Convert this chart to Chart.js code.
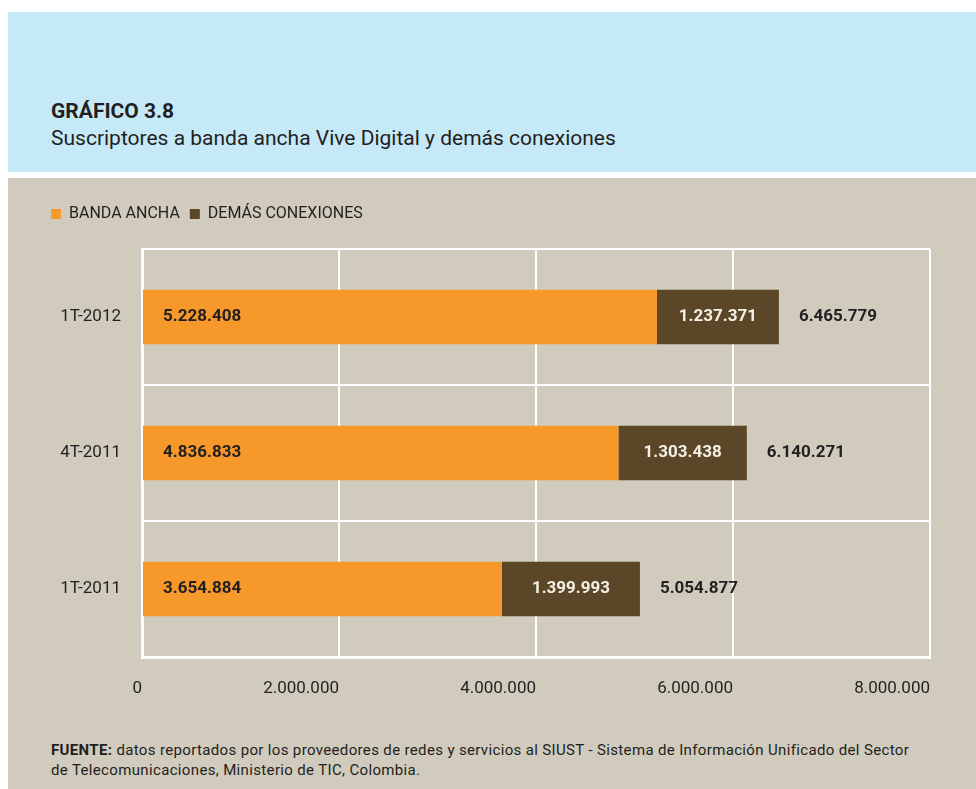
<!DOCTYPE html>
<html>
<head>
<meta charset="utf-8">
<script src="https://cdn.jsdelivr.net/npm/chart.js@4/dist/chart.umd.min.js"></script>
<style>
  body { margin: 0; background: #fff; width: 976px; height: 789px; position: relative; overflow: hidden; font-family: Roboto, sans-serif; }
  #head { position: absolute; left: 8px; top: 12px; width: 968px; height: 160px; background: #c6e9f8; }
  #head .num { position: absolute; left: 43px; top: 87px; font-size: 21px; font-weight: bold; color: #231f20; }
  #head .sub { position: absolute; left: 43px; top: 114px; font-size: 21px; color: #231f20; }
  #panel { position: absolute; left: 8px; top: 178px; width: 968px; height: 611px; background: #d1cbbd; }
  #wrap { position: absolute; left: 0; top: 0; width: 968px; height: 540px; }
  #note { position: absolute; left: 43px; top: 562px; width: 920px; font-size: 15px; letter-spacing: 0.35px; line-height: 20px; color: #231f20; white-space: nowrap; }
</style>
</head>
<body>
<div id="head">
  <div class="num">GRÁFICO 3.8</div>
  <div class="sub">Suscriptores a banda ancha Vive Digital y demás conexiones</div>
</div>
<div id="panel">
  <div id="wrap"><canvas id="chart"></canvas></div>
  <div id="note"><b>FUENTE:</b> datos reportados por los proveedores de redes y servicios al SIUST - Sistema de Información Unificado del Sector<br>de Telecomunicaciones, Ministerio de TIC, Colombia.</div>
</div>
<script>
const periods = ["1T-2012", "4T-2011", "1T-2011"];
const bandaAncha = [5228408, 4836833, 3654884];
const demasConexiones = [1237371, 1303438, 1399993];
const totals = [6465779, 6140271, 5054877];
const xTicks = [0, 2000000, 4000000, 6000000, 8000000];

function fmt(n) {
  return String(n).replace(/\B(?=(\d{3})+(?!\d))/g, ".");
}

// extra space under the legend
const legendGap = {
  id: "legendGap",
  beforeInit(chart) {
    const fit = chart.legend.fit;
    chart.legend.fit = function () {
      fit.bind(chart.legend)();
      this.height += 17;
    };
  }
};

// value labels inside and after the bars
const barLabels = {
  id: "barLabels",
  afterDatasetsDraw(chart) {
    const ctx = chart.ctx;
    const orange = chart.getDatasetMeta(0).data;
    const brown = chart.getDatasetMeta(1).data;
    ctx.save();
    ctx.font = "bold 17px Roboto";
    ctx.textBaseline = "middle";
    orange.forEach((bar, i) => {
      ctx.fillStyle = "#231f20";
      ctx.textAlign = "left";
      ctx.fillText(fmt(bandaAncha[i]), bar.base + 20, bar.y);
      const b = brown[i];
      ctx.fillStyle = "#f4f0e6";
      ctx.textAlign = "center";
      ctx.fillText(fmt(demasConexiones[i]), (b.base + b.x) / 2, b.y);
      ctx.fillStyle = "#231f20";
      ctx.textAlign = "left";
      ctx.fillText(fmt(totals[i]), b.x + 20, b.y);
    });
    ctx.restore();
  }
};

new Chart(document.getElementById("chart"), {
  type: "bar",
  data: {
    labels: periods,
    datasets: [
      { label: "BANDA ANCHA", data: bandaAncha, backgroundColor: "#f7992a" },
      { label: "DEMÁS CONEXIONES", data: demasConexiones, backgroundColor: "#5c4628" }
    ]
  },
  options: {
    indexAxis: "y",
    responsive: true,
    maintainAspectRatio: false,
    animation: false,
    categoryPercentage: 1,
    barPercentage: 0.4,
    layout: { padding: { left: 33, right: 46, top: 18, bottom: 0 } },
    plugins: {
      tooltip: { enabled: false },
      legend: {
        position: "top",
        align: "start",
        labels: {
          boxWidth: 10, boxHeight: 10, padding: 10,
          color: "#231f20",
          font: { family: "Roboto", size: 16 }
        }
      }
    },
    scales: {
      x: {
        stacked: true,
        min: 0, max: 8000000,
        afterBuildTicks(scale) { scale.ticks = xTicks.map(v => ({ value: v })); },
        afterFit(scale) { scale.height = 61; },
        grid: { color: "#ffffff", lineWidth: 2, drawTicks: false },
        border: { color: "#ffffff", width: 3 },
        ticks: {
          align: "end",
          padding: 22,
          color: "#231f20",
          font: { family: "Roboto", size: 17 },
          callback: v => fmt(v)
        }
      },
      y: {
        stacked: true,
        afterFit(scale) { scale.width = 101; },
        grid: { color: "#ffffff", lineWidth: 2, drawTicks: false, offset: true },
        border: { color: "#ffffff", width: 3 },
        ticks: {
          padding: 21,
          color: "#231f20",
          font: { family: "Roboto", size: 17 }
        }
      }
    }
  },
  plugins: [legendGap, barLabels]
});
</script>
</body>
</html>
